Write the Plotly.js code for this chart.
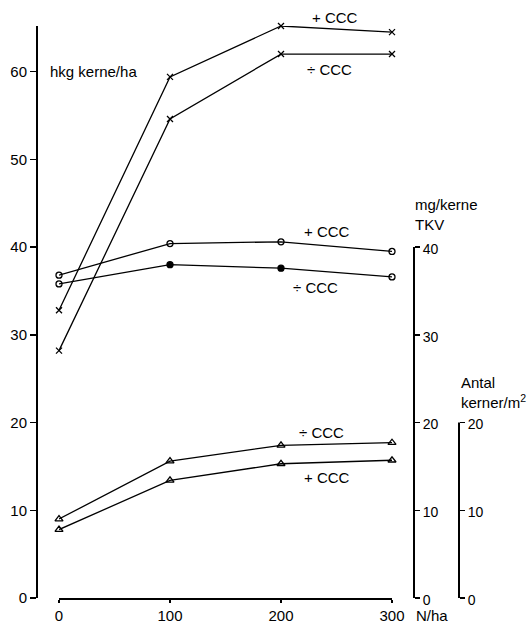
<!DOCTYPE html>
<html>
<head>
<meta charset="utf-8">
<script src="https://cdn.plot.ly/plotly-3.0.1.min.js"></script>
<style>html,body{margin:0;padding:0;background:#fff;}#chart{width:532px;height:626px;}</style>
</head>
<body>
<div id="chart"></div>
<script>
// N-levels (x)
const nLevels = [0, 100, 200, 300];
// Yield, hkg kerne/ha (left axis)
const yieldPlusCCC  = [32.8, 59.4, 65.2, 64.5];
const yieldMinusCCC = [28.2, 54.6, 62.0, 62.0];
// Thousand-kernel weight, mg/kerne (TKV axis)
const tkvPlusCCC  = [36.8, 40.4, 40.6, 39.5];
const tkvMinusCCC = [35.8, 38.0, 37.6, 36.6];
// Antal kerner/m² (right axis)
const kernMinusCCC = [9.0, 15.6, 17.4, 17.7];
const kernPlusCCC  = [7.8, 13.4, 15.3, 15.7];
// Tick labels
const xTicks = [0, 100, 200, 300];
const leftTicks = [0, 10, 20, 30, 40, 50, 60];
const tkvTicks = [0, 10, 20, 30, 40];
const kernTicks = [0, 10, 20];

const FONT = "Liberation Sans, Arial, Helvetica, sans-serif";
const lineStyle = {color: "#000", width: 1.3};

function tr(y, yaxis, symbol, size) {
  return {
    x: nLevels, y: y, yaxis: yaxis, type: "scatter", mode: "lines+markers",
    line: lineStyle, cliponaxis: false, showlegend: false, hoverinfo: "none",
    marker: {symbol: symbol, size: size, color: "#000", line: {color: "#000", width: 1.3}}
  };
}

const traces = [
  tr(yieldPlusCCC, "y", "x-thin-open", 6),
  tr(yieldMinusCCC, "y", "x-thin-open", 6),
  tr(tkvPlusCCC, "y2", "circle-open", 6),
  tr(tkvMinusCCC, "y2", ["circle-open", "circle", "circle", "circle-open"], 6),
  tr(kernMinusCCC, "y3", "triangle-up-open", 7),
  tr(kernPlusCCC, "y3", "triangle-up-open", 7)
];

const R = [0, 65.2];
const posTKV = (414 - 37) / 422;
const posKern = 1.0;

const layout = {
  width: 532, height: 626,
  margin: {l: 37, r: 73, t: 26, b: 28},
  paper_bgcolor: "#fff", plot_bgcolor: "#fff",
  font: {family: FONT, size: 15, color: "#000"},
  showlegend: false,
  xaxis: {
    domain: [(59 - 37) / 422, (392 - 37) / 422],
    range: [0, 300], tickvals: xTicks, ticktext: xTicks.map(String),
    showline: true, linecolor: "#000", linewidth: 2, showgrid: false, zeroline: false,
    ticks: "outside", ticklen: 3, tickwidth: 1.5, tickcolor: "#000",
    tickfont: {family: FONT, size: 15}, anchor: "y"
  },
  yaxis: {
    range: R, tickvals: leftTicks, anchor: "free", position: 0,
    showline: true, linecolor: "#000", linewidth: 2, showgrid: false, zeroline: false,
    ticks: "outside", ticklen: 6, tickwidth: 1.5, tickcolor: "#000",
    tickfont: {family: FONT, size: 15}
  },
  yaxis2: {
    range: R, tickvals: tkvTicks, overlaying: "y", side: "right", anchor: "free", position: posTKV,
    showline: false, showgrid: false, zeroline: false,
    ticks: "outside", ticklen: 5, tickwidth: 1.5, tickcolor: "#000",
    ticklabelshift: 2,
    tickfont: {family: FONT, size: 14}
  },
  yaxis3: {
    range: R, tickvals: kernTicks, overlaying: "y", side: "right", anchor: "free", position: posKern,
    showline: false, showgrid: false, zeroline: false,
    ticks: "outside", ticklen: 5, tickwidth: 1.5, tickcolor: "#000",
    ticklabelshift: 2,
    tickfont: {family: FONT, size: 14}
  },
  shapes: [
    {type: "line", xref: "paper", yref: "y2", x0: posTKV, x1: posTKV, y0: 0, y1: tkvTicks[tkvTicks.length - 1],
     line: {color: "#000", width: 2}},
    {type: "line", xref: "paper", yref: "y3", x0: posKern, x1: posKern, y0: 0, y1: kernTicks[kernTicks.length - 1],
     line: {color: "#000", width: 2}}
  ],
  annotations: [
    {text: "hkg kerne/ha", xref: "paper", yref: "paper", x: 0.0261, y: 0.9196, xanchor: "left", yanchor: "middle", showarrow: false},
    {text: "+ CCC", xref: "paper", yref: "paper", x: 0.7062, y: 1.0157, xanchor: "center", yanchor: "middle", showarrow: false},
    {text: "÷ CCC", xref: "paper", yref: "paper", x: 0.6943, y: 0.9248, xanchor: "center", yanchor: "middle", showarrow: false},
    {text: "mg/kerne", xref: "paper", yref: "paper", x: 0.891, y: 0.6888, xanchor: "left", yanchor: "middle", showarrow: false},
    {text: "TKV", xref: "paper", yref: "paper", x: 0.891, y: 0.6538, xanchor: "left", yanchor: "middle", showarrow: false},
    {text: "+ CCC", xref: "paper", yref: "paper", x: 0.6872, y: 0.6416, xanchor: "center", yanchor: "middle", showarrow: false},
    {text: "÷ CCC", xref: "paper", yref: "paper", x: 0.6611, y: 0.5437, xanchor: "center", yanchor: "middle", showarrow: false},
    {text: "Antal", xref: "paper", yref: "paper", x: 1.0, y: 0.3776, xanchor: "left", yanchor: "middle", showarrow: false},
    {text: "kerner/m<sup>2</sup>", xref: "paper", yref: "paper", x: 1.0, y: 0.3427, xanchor: "left", yanchor: "middle", showarrow: false},
    {text: "÷ CCC", xref: "paper", yref: "paper", x: 0.673, y: 0.2902, xanchor: "center", yanchor: "middle", showarrow: false},
    {text: "+ CCC", xref: "paper", yref: "paper", x: 0.6872, y: 0.2115, xanchor: "center", yanchor: "middle", showarrow: false},
    {text: "N/ha", xref: "paper", yref: "paper", x: 0.893, y: -0.03, xanchor: "left", yanchor: "middle", showarrow: false}
  ]
};

Plotly.newPlot("chart", traces, layout, {staticPlot: true, displayModeBar: false});
</script>
</body>
</html>
